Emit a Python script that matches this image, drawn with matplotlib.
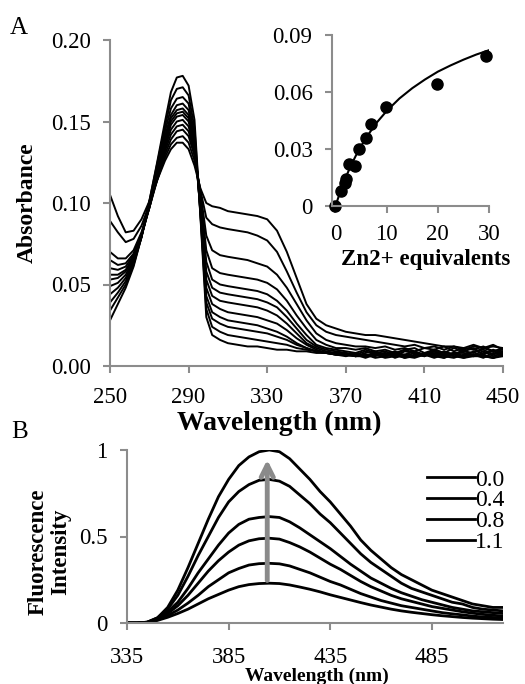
import matplotlib
matplotlib.use("Agg")
from matplotlib import pyplot as plt

plt.rcParams["font.family"] = ["Liberation Serif", "DejaVu Serif"]

# ---- panel A: absorbance spectra (Zn2+ titration) ----
wl_abs = [250, 254, 258, 262, 266, 270, 274, 278, 281, 284, 287, 290, 293, 296, 299, 302,
          306, 310, 315, 320, 325, 330, 335, 340, 345, 350, 355, 360, 365, 370, 375, 380,
          385, 390, 395, 400, 405, 410, 415, 420, 425, 430, 435, 440, 445, 450]

abs_0 = [.105, .092, .082, .083, .090, .101, .114, .126, .133, .137, .137, .133, .123, .109, .100, .098,
         .097, .095, .094, .093, .092, .090, .083, .070, .054, .038, .029, .025, .023, .021, .020, .019,
         .019, .018, .017, .016, .015, .014, .013, .012, .012, .011, .013, .011, .012, .011]
abs_1 = [.089, .082, .076, .078, .086, .099, .114, .128, .136, .140, .141, .137, .126, .108, .091, .087,
         .085, .084, .083, .082, .080, .077, .070, .058, .045, .033, .025, .021, .019, .018, .017, .016,
         .015, .014, .013, .012, .013, .011, .012, .010, .012, .010, .012, .011, .013, .010]
abs_2 = [.070, .066, .066, .071, .082, .097, .114, .130, .139, .144, .145, .141, .129, .107, .080, .071,
         .068, .067, .066, .065, .063, .061, .056, .048, .038, .028, .020, .016, .014, .013, .012, .012,
         .011, .012, .010, .011, .009, .011, .010, .012, .009, .011, .010, .012, .009, .011]
abs_3 = [.065, .062, .063, .069, .081, .097, .115, .132, .142, .147, .148, .144, .131, .105, .071, .060,
         .057, .056, .055, .054, .053, .051, .047, .040, .031, .023, .016, .013, .011, .011, .010, .011,
         .009, .010, .008, .010, .011, .008, .010, .008, .011, .009, .008, .011, .009, .010]
abs_4 = [.060, .059, .061, .068, .080, .097, .116, .134, .145, .150, .151, .147, .133, .103, .064, .053,
         .050, .049, .048, .047, .046, .044, .040, .034, .026, .019, .013, .011, .010, .009, .008, .010,
         .008, .009, .007, .010, .008, .007, .010, .008, .007, .009, .011, .007, .010, .008]
abs_5 = [.056, .056, .059, .067, .080, .097, .117, .136, .148, .153, .154, .150, .135, .101, .058, .048,
         .045, .044, .043, .042, .041, .039, .036, .030, .023, .016, .012, .010, .009, .008, .007, .009,
         .007, .008, .006, .009, .008, .006, .009, .007, .008, .006, .009, .010, .007, .009]
abs_6 = [.053, .054, .058, .066, .080, .098, .118, .137, .150, .155, .156, .152, .136, .099, .053, .043,
         .040, .039, .038, .037, .036, .034, .031, .026, .020, .014, .011, .009, .008, .008, .006, .008,
         .009, .006, .008, .007, .009, .007, .006, .009, .007, .010, .006, .008, .009, .007]
abs_7 = [.049, .051, .056, .065, .079, .098, .119, .139, .152, .157, .158, .154, .137, .097, .048, .038,
         .035, .033, .032, .031, .030, .028, .026, .022, .017, .013, .010, .008, .008, .007, .008, .006,
         .008, .007, .009, .006, .008, .007, .009, .006, .008, .008, .007, .009, .006, .008]
abs_8 = [.044, .048, .054, .064, .079, .099, .120, .141, .154, .160, .161, .157, .139, .095, .043, .033,
         .030, .028, .027, .026, .025, .023, .021, .018, .014, .011, .009, .008, .007, .007, .006, .007,
         .006, .008, .005, .007, .006, .008, .007, .005, .008, .006, .007, .005, .008, .007]
abs_9 = [.039, .045, .052, .063, .079, .100, .122, .144, .158, .164, .165, .161, .142, .094, .039, .029,
         .026, .024, .023, .022, .021, .020, .018, .016, .013, .011, .009, .008, .007, .006, .007, .005,
         .007, .006, .007, .005, .007, .006, .008, .006, .005, .007, .006, .007, .005, .007]
abs_10 = [.034, .042, .050, .062, .079, .101, .124, .147, .163, .170, .171, .166, .146, .093, .035, .024,
          .021, .019, .018, .017, .016, .015, .014, .013, .011, .010, .009, .008, .007, .007, .006, .007,
          .005, .006, .007, .005, .006, .007, .005, .007, .006, .005, .007, .006, .005, .006]
abs_11 = [.028, .038, .048, .061, .079, .101, .125, .150, .168, .177, .178, .172, .151, .092, .030, .019,
          .016, .014, .013, .012, .012, .011, .010, .010, .009, .009, .008, .008, .007, .007, .006, .006,
          .007, .005, .006, .006, .005, .007, .006, .005, .007, .005, .006, .006, .005, .007]
abs_spectra = [abs_0, abs_1, abs_2, abs_3, abs_4, abs_5, abs_6, abs_7, abs_8, abs_9, abs_10, abs_11]

# inset: absorbance change vs Zn2+ equivalents
zn_eq = [0, 1.0, 1.8, 2.1, 2.6, 3.8, 4.6, 6.0, 7.0, 9.8, 19.9, 29.5]
delta_abs = [0, 0.008, 0.012, 0.014, 0.022, 0.021, 0.030, 0.036, 0.043, 0.052, 0.064, 0.079]
fit_eq = [0, 1, 2, 3, 4, 5, 6, 8, 10, 12.5, 15, 17.5, 20, 22.5, 25, 27.5, 30]
fit_abs = [0, 0.0080, 0.0150, 0.0212, 0.0266, 0.0315, 0.0360, 0.0437, 0.0500, 0.0566, 0.0620,
           0.0666, 0.0707, 0.0740, 0.0770, 0.0797, 0.0820]

# ---- panel B: fluorescence spectra ----
wl_fl = [335, 340, 345, 350, 355, 360, 365, 370, 375, 380, 385, 390, 395, 400, 405, 410, 415,
         420, 425, 430, 435, 440, 445, 450, 455, 460, 465, 470, 475, 480, 485, 490, 495, 500,
         505, 510, 515, 520]
fl_0 = [0, 0, .005, .03, .09, .19, .32, .46, .60, .73, .83, .91, .96, .99, 1.0, .99, .95,
        .89, .83, .76, .70, .63, .56, .48, .42, .37, .32, .28, .25, .22, .19, .17, .15, .13,
        .11, .10, .09, .09]
fl_1 = [0, 0, .005, .03, .08, .16, .27, .39, .50, .61, .70, .76, .80, .825, .83, .82, .79,
        .74, .69, .63, .58, .52, .46, .40, .35, .31, .27, .23, .20, .18, .16, .14, .12, .11,
        .09, .08, .075, .07]
fl_2 = [0, 0, .004, .025, .065, .12, .20, .29, .37, .45, .52, .57, .60, .61, .615, .61, .585,
        .55, .51, .47, .43, .385, .34, .30, .26, .23, .20, .175, .155, .135, .12, .105, .09, .08,
        .07, .065, .06, .055]
fl_3 = [0, 0, .004, .022, .055, .10, .16, .23, .30, .36, .41, .45, .475, .487, .49, .485, .465,
        .44, .41, .375, .34, .31, .275, .24, .21, .185, .16, .14, .125, .11, .095, .085, .075, .065,
        .057, .05, .045, .04]
fl_4 = [0, 0, .003, .018, .043, .075, .115, .16, .21, .25, .29, .315, .335, .343, .345, .342, .33,
        .31, .29, .265, .24, .22, .195, .17, .15, .13, .115, .10, .09, .08, .07, .06, .053, .047,
        .04, .035, .032, .03]
fl_5 = [0, 0, .003, .015, .033, .055, .08, .11, .14, .165, .19, .21, .222, .228, .23, .228, .22,
        .208, .195, .18, .163, .148, .133, .118, .104, .092, .08, .07, .062, .055, .048, .042, .037,
        .032, .028, .025, .022, .02]
fl_spectra = [fl_0, fl_1, fl_2, fl_3, fl_4, fl_5]
fl_legend = ["0.0", "0.4", "0.8", "1.1"]

W, H = 525, 684
fig = plt.figure(figsize=(W / 100, H / 100), dpi=100)
axis_gray = "#8c8c8c"


def px_axes(left, top, right, bottom):
    # axes placed by pixel edges of the picture
    return fig.add_axes([left / W, 1 - bottom / H, (right - left) / W, (bottom - top) / H])


def style(ax, xpad, ypad, size=16.5):
    for s in ("top", "right"):
        ax.spines[s].set_visible(False)
    for s in ("left", "bottom"):
        ax.spines[s].set_color(axis_gray)
        ax.spines[s].set_linewidth(1.5)
    ax.tick_params(direction="out", length=5, width=1.5, color=axis_gray, labelsize=size)
    ax.tick_params(axis="x", pad=xpad)
    ax.tick_params(axis="y", pad=ypad)


def place_labels(ax, xlab, ylab):
    # label centres given in axes fraction
    if xlab:
        ax.xaxis.set_label_coords(*xlab)
        ax.xaxis.label.set_verticalalignment("center")
    if ylab:
        ax.yaxis.set_label_coords(*ylab)
        ax.yaxis.label.set_verticalalignment("center")


# panel A
axA = px_axes(110, 40, 503, 366)
for spec in abs_spectra:
    axA.plot(wl_abs, spec, color="black", lw=1.4)
axA.set_xlim(250, 450)
axA.set_ylim(0, 0.2)
axA.set_xticks([250, 290, 330, 370, 410, 450])
axA.set_yticks([0, 0.05, 0.10, 0.15, 0.20])
axA.set_yticklabels(["0.00", "0.05", "0.10", "0.15", "0.20"])
style(axA, xpad=10, ypad=9)
axA.set_xlabel("Wavelength (nm)", fontsize=20, fontweight="bold")
axA.set_ylabel("Absorbance", fontsize=17, fontweight="bold")
place_labels(axA, ((279 - 110) / 393, (366 - 423) / 326), ((27 - 110) / 393, 0.5))

# inset
axI = px_axes(332, 35, 489, 206)
axI.patch.set_alpha(0)
axI.plot(fit_eq, fit_abs, color="black", lw=1.5)
axI.plot(zn_eq, delta_abs, "o", color="black", ms=8, clip_on=False)
axI.set_xlim(-0.68, 30)
axI.set_ylim(0, 0.09)
axI.set_xticks([0, 10, 20, 30])
axI.set_yticks([0, 0.03, 0.06, 0.09])
axI.set_yticklabels(["0", "0.03", "0.06", "0.09"])
style(axI, xpad=8, ypad=9)
axI.set_xlabel("Zn2+ equivalents", fontsize=16.5, fontweight="bold")
place_labels(axI, ((426 - 332) / 157, (206 - 259) / 171), None)

# panel B
axB = px_axes(127, 450, 503, 623)
lines = []
for spec in fl_spectra:
    ln, = axB.plot(wl_fl, spec, color="black", lw=2)
    lines.append(ln)
axB.annotate("", xy=(404, 0.96), xytext=(404, 0.23),
             arrowprops=dict(arrowstyle="->", color="#8a8a8a", lw=3.5, mutation_scale=22))
axB.set_xlim(335, 520)
axB.set_ylim(0, 1)
axB.set_xticks([335, 385, 435, 485])
axB.set_yticks([0, 0.5, 1])
axB.set_yticklabels(["0", "0.5", "1"])
style(axB, xpad=12, ypad=9)
axB.set_xlabel("Wavelength (nm)", fontsize=14, fontweight="bold")
axB.set_ylabel("Fluorescence\nIntensity", fontsize=16.5, fontweight="bold", linespacing=1.1)
place_labels(axB, ((317 - 127) / 376, (623 - 676) / 173), ((49 - 127) / 376, (623 - 552) / 173))
leg = axB.legend(lines[:4], fl_legend, loc="upper left",
                 bbox_to_anchor=((427 - 127) / 376, (623 - 469) / 173),
                 frameon=False, fontsize=17, handlelength=2.05, handletextpad=0.0,
                 labelspacing=-0.03, borderpad=0, borderaxespad=0)

fig.text(10 / W, 1 - 17 / H, "A", fontsize=18, va="top")
fig.text(11 / W, 1 - 421 / H, "B", fontsize=18, va="top")

fig.savefig("out.png", dpi=100)
